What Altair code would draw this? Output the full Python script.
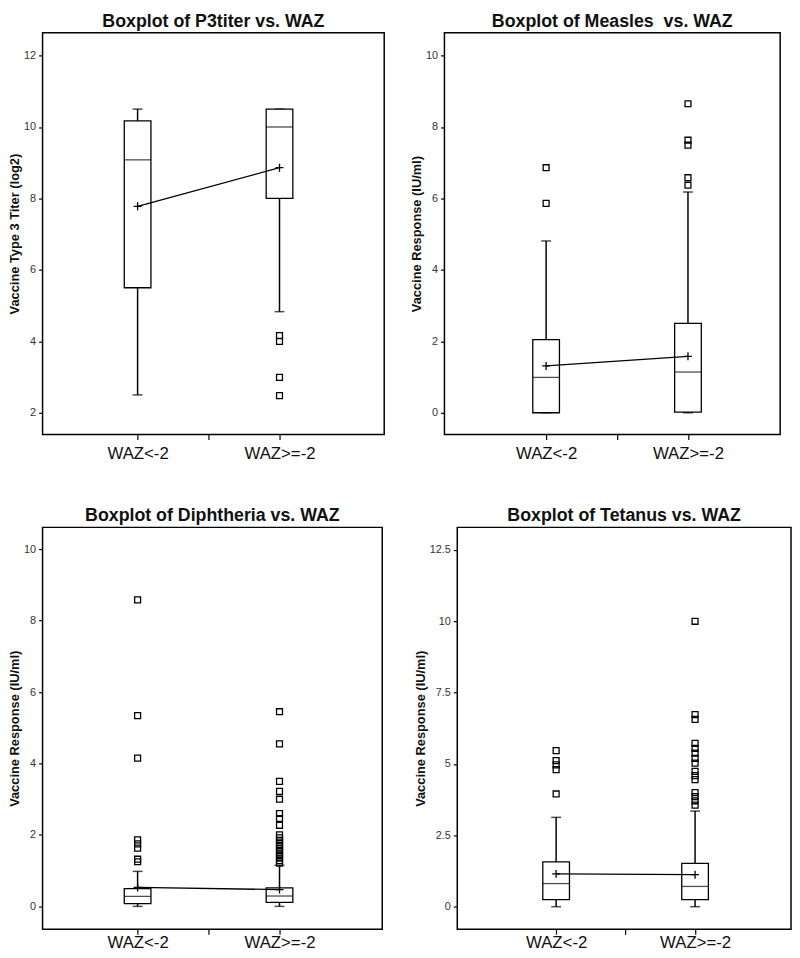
import altair as alt
import pandas as pd

categories = ["WAZ<-2", "WAZ>=-2"]
cat_pos = [1, 2]

# ---- P3titer ----
p3_low = [2.5, 4.83]
p3_q1 = [5.5, 8.0]
p3_med = [9.08, 10.0]
p3_q3 = [10.17, 10.5]
p3_high = [10.5, 10.5]
p3_mean = [7.78, 8.86]
p3_out_a = []
p3_out_b = [4.16, 4.0, 2.99, 2.48]

# ---- Measles ----
me_low = [0.0, 0.0]
me_q1 = [0.0, 0.02]
me_med = [0.99, 1.14]
me_q3 = [2.05, 2.5]
me_high = [4.81, 6.18]
me_mean = [1.31, 1.58]
me_out_a = [6.86, 5.86]
me_out_b = [8.65, 7.63, 7.49, 6.58, 6.37]

# ---- Diphtheria ----
di_low = [0.0, 0.0]
di_q1 = [0.08, 0.11]
di_med = [0.28, 0.29]
di_q3 = [0.5, 0.52]
di_high = [0.98, 1.15]
di_mean = [0.53, 0.47]
di_out_a = [8.58, 5.34, 4.15, 1.86, 1.75, 1.63, 1.32, 1.25]
di_out_b = [5.45, 4.55, 3.5, 3.22, 3.0, 2.6, 2.46, 2.27, 2.0, 1.92, 1.85,
            1.78, 1.7, 1.63, 1.56, 1.49, 1.42, 1.35, 1.28, 1.21]

# ---- Tetanus ----
te_low = [0.0, 0.0]
te_q1 = [0.25, 0.25]
te_med = [0.81, 0.71]
te_q3 = [1.57, 1.52]
te_high = [3.13, 3.35]
te_mean = [1.15, 1.12]
te_out_a = [5.47, 5.12, 4.97, 4.8, 3.95]
te_out_b = [10.0, 6.73, 6.56, 5.72, 5.55, 5.38, 5.2, 5.03, 4.74, 4.59, 4.45,
            4.0, 3.86, 3.71, 3.56]

FONT = "Liberation Sans"


def panel(title, ytitle, low, q1, med, q3, high, mean, out_a, out_b,
          ydomain, yticks, xdomain, width, height=407, xlabpad=6):
    box_df = pd.DataFrame({"pos": cat_pos, "cat": categories, "low": low, "q1": q1,
                           "med": med, "q3": q3, "high": high, "mean": mean})
    out_df = pd.DataFrame({
        "pos": [cat_pos[0]] * len(out_a) + [cat_pos[1]] * len(out_b),
        "val": list(out_a) + list(out_b),
    })
    label_expr = ("datum.value == %d ? '%s' : datum.value == %d ? '%s' : ''"
                  % (cat_pos[0], categories[0], cat_pos[1], categories[1]))
    xenc = alt.X("pos:Q",
                 scale=alt.Scale(domain=xdomain, nice=False, zero=False),
                 axis=alt.Axis(values=[1, 1.5, 2], labelExpr=label_expr, title=None,
                               labelFontSize=17, labelColor="#111", tickSize=5,
                               labelPadding=xlabpad, labelFont=FONT))
    yscale = alt.Scale(domain=ydomain, nice=False, zero=False)
    yaxis = alt.Axis(values=yticks, labelExpr="'' + datum.value", title=ytitle,
                     labelFontSize=11, labelColor="#333", tickSize=4, labelPadding=3,
                     titlePadding=2, titleFontSize=13, titleFontWeight="bold",
                     titleColor="#111", labelFont=FONT, titleFont=FONT)

    def Y(field):
        return alt.Y(field + ":Q", scale=yscale, axis=yaxis)

    base = alt.Chart(box_df)
    w_lo = base.mark_rule(color="black", strokeWidth=1.5).encode(x=xenc, y=Y("low"), y2="q1:Q")
    w_hi = base.mark_rule(color="black", strokeWidth=1.5).encode(x=xenc, y=Y("q3"), y2="high:Q")
    cap_lo = base.mark_tick(orient="horizontal", size=10, thickness=1.5, color="black").encode(x=xenc, y=Y("low"))
    cap_hi = base.mark_tick(orient="horizontal", size=10, thickness=1.5, color="black").encode(x=xenc, y=Y("high"))
    box = base.mark_bar(size=27, fill="white", stroke="black", strokeWidth=1.3).encode(
        x=xenc, y=Y("q1"), y2="q3:Q")
    med_t = base.mark_tick(orient="horizontal", size=27, thickness=1.3, color="black").encode(x=xenc, y=Y("med"))
    mean_line = base.mark_line(color="black", strokeWidth=1.3).encode(x=xenc, y=Y("mean"))
    mean_pt = base.mark_point(shape="M-1,0H1M0,-1V1", size=64, filled=False,
                              color="black", strokeWidth=1.3, opacity=1).encode(x=xenc, y=Y("mean"))
    outs = alt.Chart(out_df).mark_square(filled=False, size=36, color="black",
                                         strokeWidth=1.3, opacity=1).encode(x=xenc, y=Y("val"))
    return alt.layer(w_lo, w_hi, cap_lo, cap_hi, box, med_t, mean_line, mean_pt, outs).properties(
        title=title, width=width, height=height)


p1 = panel("Boxplot of P3titer vs. WAZ", "Vaccine Type 3 Titer (log2)",
           p3_low, p3_q1, p3_med, p3_q3, p3_high, p3_mean, p3_out_a, p3_out_b,
           [1.39, 12.64], [2, 4, 6, 8, 10, 12], [0.365, 2.703], 346)
p2 = panel("Boxplot of Measles\u00a0 vs. WAZ", "Vaccine Response (IU/ml)",
           me_low, me_q1, me_med, me_q3, me_high, me_mean, me_out_a, me_out_b,
           [-0.61, 10.64], [0, 2, 4, 6, 8, 10], [0.318, 2.615], 340)
p3 = panel("Boxplot of Diphtheria vs. WAZ", "Vaccine Response (IU/ml)",
           di_low, di_q1, di_med, di_q3, di_high, di_mean, di_out_a, di_out_b,
           [-0.64, 10.61], [0, 2, 4, 6, 8, 10], [0.365, 2.689], 344, xlabpad=1)
p4 = panel("Boxplot of Tetanus vs. WAZ", "Vaccine Response (IU/ml)",
           te_low, te_q1, te_med, te_q3, te_high, te_mean, te_out_a, te_out_b,
           [-0.79, 13.29], [0, 2.5, 5, 7.5, 10, 12.5], [0.324, 2.655], 338, xlabpad=1)

row1 = alt.hconcat(p1, p2, spacing=25)
row2 = alt.hconcat(p3, p4, spacing=30)

chart = alt.vconcat(row1, row2, spacing=45).properties(
    padding={"left": 0, "top": -2, "right": 0, "bottom": -10}
).configure_view(
    stroke="black", strokeWidth=1.5
).configure_axis(
    domain=False, grid=False, tickColor="black", tickWidth=1.2
).configure_title(
    font=FONT, fontSize=18, fontWeight="bold", color="#111", anchor="middle", offset=2
)

chart.save("out.html", embed_options={"renderer": "svg", "actions": False})
